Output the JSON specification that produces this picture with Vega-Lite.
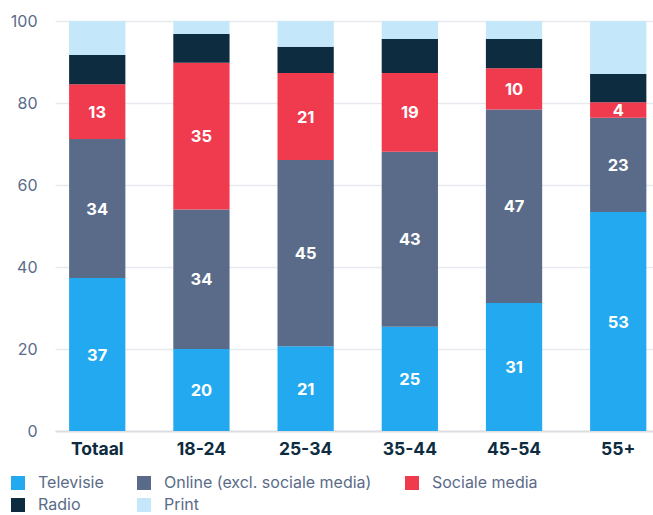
{
  "$schema": "https://vega.github.io/schema/vega-lite/v6.json",
  "autosize": {"type": "none"},
  "width": 598,
  "height": 410,
  "padding": {"left": 55, "top": 21, "right": 0, "bottom": 84},
  "background": "white",
  "config": {
    "font": "Inter",
    "view": {"stroke": null},
    "axis": {"labelFont": "Inter"},
    "legend": {"labelFont": "Inter"}
  },
  "data": {
    "values": [
      {"groep": "Totaal", "medium": "Televisie", "k": 1, "value": 37.3, "label": "37"},
      {"groep": "Totaal", "medium": "Online (excl. sociale media)", "k": 2, "value": 33.9, "label": "34"},
      {"groep": "Totaal", "medium": "Sociale media", "k": 3, "value": 13.4, "label": "13"},
      {"groep": "Totaal", "medium": "Radio", "k": 4, "value": 7.1, "label": ""},
      {"groep": "Totaal", "medium": "Print", "k": 5, "value": 8.3, "label": ""},
      {"groep": "18-24", "medium": "Televisie", "k": 1, "value": 20.0, "label": "20"},
      {"groep": "18-24", "medium": "Online (excl. sociale media)", "k": 2, "value": 34.0, "label": "34"},
      {"groep": "18-24", "medium": "Sociale media", "k": 3, "value": 35.8, "label": "35"},
      {"groep": "18-24", "medium": "Radio", "k": 4, "value": 7.0, "label": ""},
      {"groep": "18-24", "medium": "Print", "k": 5, "value": 3.2, "label": ""},
      {"groep": "25-34", "medium": "Televisie", "k": 1, "value": 20.7, "label": "21"},
      {"groep": "25-34", "medium": "Online (excl. sociale media)", "k": 2, "value": 45.4, "label": "45"},
      {"groep": "25-34", "medium": "Sociale media", "k": 3, "value": 21.2, "label": "21"},
      {"groep": "25-34", "medium": "Radio", "k": 4, "value": 6.4, "label": ""},
      {"groep": "25-34", "medium": "Print", "k": 5, "value": 6.3, "label": ""},
      {"groep": "35-44", "medium": "Televisie", "k": 1, "value": 25.4, "label": "25"},
      {"groep": "35-44", "medium": "Online (excl. sociale media)", "k": 2, "value": 42.7, "label": "43"},
      {"groep": "35-44", "medium": "Sociale media", "k": 3, "value": 19.2, "label": "19"},
      {"groep": "35-44", "medium": "Radio", "k": 4, "value": 8.3, "label": ""},
      {"groep": "35-44", "medium": "Print", "k": 5, "value": 4.4, "label": ""},
      {"groep": "45-54", "medium": "Televisie", "k": 1, "value": 31.2, "label": "31"},
      {"groep": "45-54", "medium": "Online (excl. sociale media)", "k": 2, "value": 47.2, "label": "47"},
      {"groep": "45-54", "medium": "Sociale media", "k": 3, "value": 10.1, "label": "10"},
      {"groep": "45-54", "medium": "Radio", "k": 4, "value": 7.1, "label": ""},
      {"groep": "45-54", "medium": "Print", "k": 5, "value": 4.4, "label": ""},
      {"groep": "55+", "medium": "Televisie", "k": 1, "value": 53.4, "label": "53"},
      {"groep": "55+", "medium": "Online (excl. sociale media)", "k": 2, "value": 23.0, "label": "23"},
      {"groep": "55+", "medium": "Sociale media", "k": 3, "value": 3.8, "label": "4"},
      {"groep": "55+", "medium": "Radio", "k": 4, "value": 6.9, "label": ""},
      {"groep": "55+", "medium": "Print", "k": 5, "value": 12.9, "label": ""}
    ]
  },
  "transform": [
    {"stack": "value", "groupby": ["groep"], "sort": [{"field": "k", "order": "ascending"}], "as": ["v0", "v1"]},
    {"calculate": "(datum.v0 + datum.v1) / 2", "as": "mid"}
  ],
  "encoding": {
    "x": {
      "field": "groep",
      "type": "nominal",
      "sort": ["Totaal", "18-24", "25-34", "35-44", "45-54", "55+"],
      "scale": {"paddingInner": 0.46, "paddingOuter": 0.0995, "align": 0.68},
      "axis": {
        "title": null,
        "labelAngle": 0,
        "labelFont": "Inter",
        "labelFontSize": 17.5,
        "labelFontWeight": "bold",
        "labelColor": "#0D2C40",
        "labelPadding": 9,
        "ticks": false,
        "domain": true,
        "domainColor": "#DDDDE2",
        "domainWidth": 2,
        "grid": false
      }
    }
  },
  "layer": [
    {
      "mark": {"type": "bar"},
      "encoding": {
        "y": {
          "field": "v1",
          "type": "quantitative",
          "scale": {"domain": [0, 100], "nice": false},
          "axis": {
            "title": null,
            "values": [0, 20, 40, 60, 80, 100],
            "labelFontSize": 16,
            "labelColor": "#5A6B89",
            "labelPadding": 18,
            "ticks": false,
            "domain": false,
            "grid": true,
            "gridColor": "#E8E9EE",
            "gridWidth": 1.5
          }
        },
        "y2": {"field": "v0"},
        "color": {
          "field": "medium",
          "type": "nominal",
          "scale": {
            "domain": ["Televisie", "Online (excl. sociale media)", "Sociale media", "Radio", "Print"],
            "range": ["#23A9F0", "#5A6B89", "#F03A4D", "#0D2C40", "#C4E7F9"]
          },
          "legend": {
            "title": null,
            "orient": "none",
            "legendX": -45,
            "legendY": 454,
            "direction": "horizontal",
            "columns": 3,
            "symbolType": "square",
            "symbolSize": 196,
            "symbolStrokeWidth": 0,
            "labelFontSize": 16,
            "labelColor": "#5A6B89",
            "labelOffset": 12,
            "columnPadding": 32,
            "rowPadding": 6,
            "labelLimit": 300
          }
        }
      }
    },
    {
      "transform": [{"filter": "datum.label != ''"}],
      "mark": {"type": "text", "color": "white", "fontWeight": "bold", "fontSize": 16.5, "baseline": "middle", "align": "center", "dy": 1},
      "encoding": {
        "y": {"field": "mid", "type": "quantitative"},
        "text": {"field": "label"}
      }
    }
  ]
}
